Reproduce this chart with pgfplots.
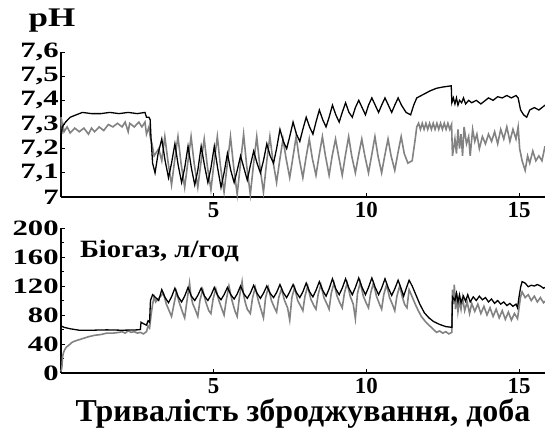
\documentclass[border=0pt]{standalone}
\usepackage{fontspec}
\setmainfont{Liberation Serif}
\usepackage{pgfplots}
\pgfplotsset{compat=1.18}
\definecolor{trace}{RGB}{130,130,130}

\pgfplotsset{
  panel/.style={
    scale only axis, width=484bp, height=145bp,
    xmin=0, xmax=15.85,
    axis x line*=bottom, axis y line*=left,
    axis line style={line width=1.4pt},
    tick align=inside, major tick length=4pt, minor tick length=3pt,
    tick style={line width=0.9pt, black},
    xtick={5,10,15},
    /pgf/number format/assume math mode=true,
    /pgf/number format/use comma,
    xticklabel style={font=\bfseries\fontsize{23}{23}\selectfont, inner ysep=5pt},
    yticklabel style={font=\bfseries\fontsize{22}{22}\selectfont, xscale=1.4, inner xsep=1.5pt},
    clip=false,
  },
  blk/.style={black, line width=1.3pt},
  gry/.style={trace, line width=1.6pt},
}

\begin{document}
\begin{tikzpicture}

% ---- pH ----
\begin{axis}[panel, at={(61bp,238bp)}, anchor=south west,
  ymin=7, ymax=7.6, ytick={7,7.1,7.2,7.3,7.4,7.5,7.6}]
\addplot[gry] coordinates {
(0,7.33) (0.02,7.26) (0.06,7.30) (0.1,7.27) (0.2,7.29) (0.3,7.265) (0.45,7.285)
(0.6,7.27) (0.75,7.285) (0.9,7.26) (1.0,7.285) (1.1,7.27) (1.25,7.29) (1.4,7.275)
(1.55,7.30) (1.7,7.29) (1.85,7.305) (2.0,7.29) (2.1,7.31) (2.2,7.27) (2.25,7.305)
(2.4,7.29) (2.55,7.31) (2.65,7.29) (2.75,7.31) (2.8,7.26) (2.88,7.29) (2.92,7.25)
(2.98,7.22) (3.05,7.17) (3.2,7.20) (3.3,7.15)
(3.40,7.25) (3.50,7.15) (3.62,7.05) (3.72,7.15)
(3.83,7.25) (3.93,7.14) (4.05,7.04) (4.15,7.14)
(4.26,7.25) (4.36,7.14) (4.48,7.04) (4.58,7.14)
(4.69,7.24) (4.79,7.13) (4.91,7.03) (5.01,7.14)
(5.12,7.25) (5.22,7.13) (5.34,7.02) (5.44,7.13)
(5.55,7.25) (5.65,7.13) (5.77,7.01) (5.87,7.13)
(5.98,7.26) (6.08,7.13) (6.20,7.01) (6.30,7.13)
(6.41,7.25) (6.51,7.13) (6.63,7.02) (6.73,7.14)
(6.84,7.25) (6.94,7.15) (7.06,7.06) (7.16,7.15)
(7.27,7.24) (7.37,7.16) (7.49,7.08) (7.59,7.16)
(7.70,7.25) (7.80,7.16) (7.92,7.08) (8.02,7.16)
(8.13,7.24) (8.23,7.16) (8.35,7.09) (8.45,7.17)
(8.56,7.25) (8.66,7.17) (8.78,7.09) (8.88,7.17)
(8.99,7.24) (9.09,7.17) (9.21,7.09) (9.31,7.17)
(9.42,7.25) (9.52,7.17) (9.64,7.10) (9.74,7.17)
(9.85,7.24) (9.95,7.17) (10.07,7.10) (10.17,7.17)
(10.28,7.25) (10.38,7.17) (10.50,7.10) (10.60,7.17)
(10.71,7.24) (10.81,7.17) (10.93,7.11) (11.03,7.18)
(11.14,7.25) (11.24,7.18) (11.36,7.14) (11.5,7.15) (11.6,7.24)
(11.65,7.29) (11.71,7.305) (11.77,7.28) (11.83,7.305) (11.89,7.28) (11.95,7.305)
(12.01,7.28) (12.07,7.305) (12.13,7.28) (12.19,7.305) (12.25,7.28) (12.31,7.305)
(12.37,7.28) (12.43,7.305) (12.49,7.28) (12.55,7.305) (12.61,7.28) (12.67,7.305)
(12.73,7.28) (12.79,7.30)
(12.82,7.17) (12.9,7.24) (12.95,7.18) (13.0,7.28) (13.05,7.20) (13.1,7.26) (13.15,7.17)
(13.2,7.29) (13.28,7.22) (13.35,7.25) (13.4,7.17) (13.48,7.28) (13.55,7.23) (13.62,7.26)
(13.7,7.20) (13.8,7.25) (13.9,7.22) (14.0,7.26) (14.1,7.23) (14.2,7.27) (14.3,7.22)
(14.4,7.28) (14.5,7.24) (14.6,7.29) (14.7,7.23) (14.8,7.28) (14.9,7.24) (14.97,7.29)
(15.02,7.20) (15.1,7.15) (15.2,7.11) (15.28,7.17) (15.35,7.14) (15.45,7.19) (15.55,7.15)
(15.65,7.17) (15.75,7.15) (15.85,7.21)
};
\addplot[blk] coordinates {
(0,7.25) (0.04,7.29) (0.15,7.31) (0.3,7.33) (0.5,7.34) (0.7,7.35) (1.0,7.345)
(1.3,7.345) (1.6,7.35) (1.9,7.345) (2.2,7.35) (2.5,7.345) (2.75,7.35) (2.8,7.33)
(2.88,7.33) (2.92,7.32) (2.95,7.24) (3.0,7.14) (3.08,7.10) (3.18,7.18)
(3.30,7.24) (3.41,7.15) (3.52,7.08) (3.62,7.14)
(3.73,7.22) (3.84,7.13) (3.95,7.06) (4.05,7.12)
(4.16,7.21) (4.27,7.12) (4.38,7.05) (4.48,7.11)
(4.59,7.21) (4.70,7.13) (4.81,7.06) (4.91,7.12)
(5.02,7.21) (5.13,7.12) (5.24,7.04) (5.34,7.10)
(5.45,7.18) (5.56,7.11) (5.67,7.06) (5.77,7.11)
(5.88,7.17) (5.99,7.12) (6.10,7.07) (6.20,7.13)
(6.31,7.19) (6.42,7.14) (6.53,7.10) (6.63,7.15)
(6.74,7.22) (6.85,7.17) (6.96,7.14) (7.06,7.20)
(7.17,7.28) (7.28,7.23) (7.39,7.20) (7.49,7.25)
(7.60,7.31) (7.71,7.26) (7.82,7.23) (7.92,7.28)
(8.03,7.33) (8.14,7.29) (8.25,7.26) (8.35,7.31)
(8.46,7.36) (8.57,7.32) (8.68,7.29) (8.78,7.33)
(8.89,7.38) (9.00,7.34) (9.11,7.31) (9.21,7.35)
(9.32,7.39) (9.43,7.35) (9.54,7.33) (9.64,7.37)
(9.75,7.40) (9.86,7.37) (9.97,7.34) (10.07,7.38)
(10.18,7.41) (10.29,7.38) (10.40,7.35) (10.50,7.38)
(10.61,7.41) (10.72,7.38) (10.83,7.35) (10.93,7.38)
(11.04,7.41) (11.15,7.38) (11.30,7.35) (11.45,7.34) (11.55,7.38) (11.65,7.41)
(11.8,7.42) (11.95,7.43) (12.1,7.44) (12.3,7.45) (12.5,7.455) (12.78,7.46)
(12.8,7.39) (12.85,7.41) (12.9,7.385) (12.95,7.41) (13.0,7.38) (13.05,7.40)
(13.12,7.39) (13.18,7.41) (13.25,7.385) (13.35,7.40) (13.45,7.39) (13.6,7.40)
(13.75,7.385) (13.9,7.40) (14.0,7.41) (14.15,7.40) (14.3,7.415) (14.45,7.41)
(14.6,7.42) (14.75,7.41) (14.9,7.42) (14.97,7.41) (15.05,7.36) (15.15,7.34)
(15.25,7.33) (15.35,7.36) (15.5,7.37) (15.65,7.36) (15.75,7.37) (15.85,7.38)
};
\end{axis}

% ---- biogas ----
\begin{axis}[panel, at={(61bp,62bp)}, anchor=south west,
  ymin=0, ymax=200, ytick={0,40,80,120,160,200},
  minor ytick={20,60,100,140,180},
  xlabel={Тривалість зброджування, доба},
  xlabel style={font=\bfseries\fontsize{32}{32}\selectfont, inner ysep=0pt}]
\addplot[gry] coordinates {
(0,2) (0.03,8) (0.05,22) (0.08,28) (0.12,32) (0.18,36) (0.25,38) (0.35,42)
(0.45,44) (0.6,46) (0.75,48) (0.9,50) (1.1,52) (1.3,53) (1.5,55) (1.7,55)
(1.9,56) (2.0,57) (2.1,55) (2.2,58) (2.3,56) (2.4,57) (2.5,55) (2.6,56)
(2.7,54) (2.8,57) (2.85,65) (2.9,62) (2.95,80) (3.0,95) (3.05,105) (3.1,98)
(3.35,110) (3.45,95) (3.55,85) (3.62,78) (3.7,95)
(3.78,112) (3.88,96) (3.98,84) (4.05,76) (4.12,98)
(4.21,124) (4.25,108) (4.31,96) (4.41,86) (4.48,78) (4.55,100)
(4.64,115) (4.74,98) (4.84,86) (4.91,82) (4.98,102)
(5.07,116) (5.17,100) (5.27,88) (5.34,80) (5.41,100)
(5.5,120) (5.6,100) (5.7,85) (5.77,78) (5.84,104)
(5.93,126) (5.97,110) (6.03,98) (6.1,88) (6.2,82) (6.27,103)
(6.36,118) (6.46,100) (6.56,86) (6.63,76) (6.7,104)
(6.79,118) (6.89,100) (6.99,90) (7.06,84) (7.13,104)
(7.22,116) (7.32,100) (7.42,90) (7.49,73) (7.56,104)
(7.65,118) (7.75,100) (7.85,92) (7.92,86) (7.99,106)
(8.08,120) (8.18,102) (8.28,93) (8.35,88) (8.42,108)
(8.51,122) (8.61,104) (8.71,95) (8.78,88) (8.85,110)
(8.94,124) (9.04,106) (9.14,96) (9.21,90) (9.28,110)
(9.37,124) (9.47,106) (9.57,95) (9.64,75) (9.71,110)
(9.8,125) (9.9,106) (10.0,96) (10.07,90) (10.14,110)
(10.23,124) (10.33,106) (10.43,95) (10.5,88) (10.57,108)
(10.66,122) (10.76,104) (10.86,94) (10.93,86) (11.0,106)
(11.09,120) (11.19,103) (11.26,94) (11.33,90) (11.4,115)
(11.5,105) (11.6,95) (11.7,86) (11.8,78) (11.95,70) (12.1,64) (12.2,60) (12.3,56)
(12.4,58) (12.5,55) (12.6,57) (12.7,54) (12.8,56) (12.82,115) (12.85,95) (12.88,122)
(12.92,88) (12.96,110) (13.0,85) (13.05,100) (13.1,88) (13.15,104) (13.22,86)
(13.3,98) (13.38,82) (13.45,96) (13.55,85) (13.65,95) (13.75,82) (13.85,92)
(13.95,80) (14.05,90) (14.15,78) (14.25,88) (14.35,76) (14.45,86) (14.55,74)
(14.65,84) (14.75,73) (14.85,82) (14.95,75) (15.0,90) (15.05,105) (15.1,112)
(15.2,104) (15.3,108) (15.4,100) (15.5,106) (15.6,98) (15.7,104) (15.8,97) (15.85,99)
};
\addplot[blk] coordinates {
(0,65) (0.1,63) (0.3,61) (0.6,59) (1.0,59) (1.5,59.5) (2.0,59) (2.5,59.5)
(2.6,60) (2.62,70) (2.7,68) (2.8,66) (2.85,72) (2.9,70) (2.93,100) (3.0,108)
(3.1,104) (3.2,100)
(3.30,115) (3.41,104) (3.52,97) (3.62,105)
(3.73,117) (3.84,105) (3.95,98) (4.05,106)
(4.16,118) (4.27,106) (4.38,100) (4.48,107)
(4.59,117) (4.70,106) (4.81,100) (4.91,107)
(5.02,118) (5.13,107) (5.24,101) (5.34,108)
(5.45,118) (5.56,108) (5.67,102) (5.77,109)
(5.88,120) (5.99,109) (6.10,103) (6.20,110)
(6.31,121) (6.42,110) (6.53,103) (6.63,110)
(6.74,120) (6.85,110) (6.96,104) (7.06,111)
(7.17,122) (7.28,111) (7.39,104) (7.49,112)
(7.60,122) (7.71,111) (7.82,104) (7.92,112)
(8.03,124) (8.14,112) (8.25,105) (8.35,114)
(8.46,126) (8.57,114) (8.68,106) (8.78,116)
(8.89,130) (9.00,116) (9.11,108) (9.21,117)
(9.32,130) (9.43,117) (9.54,108) (9.64,118)
(9.75,131) (9.86,118) (9.97,108) (10.07,118)
(10.18,131) (10.29,118) (10.40,108) (10.50,117)
(10.61,130) (10.72,117) (10.83,107) (10.93,116)
(11.04,128) (11.15,115) (11.22,106) (11.30,116) (11.40,128)
(11.5,120) (11.6,110) (11.75,95) (11.9,83) (12.05,76) (12.2,71) (12.4,67)
(12.6,64) (12.8,63) (12.82,105) (12.9,100) (12.95,110) (13.0,98) (13.05,108)
(13.1,97) (13.18,106) (13.25,99) (13.32,108) (13.4,98) (13.5,105) (13.6,100)
(13.7,106) (13.8,101) (13.9,104) (14.0,98) (14.1,102) (14.2,96) (14.3,100)
(14.4,95) (14.5,98) (14.6,93) (14.7,96) (14.8,92) (14.9,95) (14.95,90)
(15.0,105) (15.05,118) (15.1,126) (15.2,124) (15.3,119) (15.4,121) (15.5,120)
(15.6,122) (15.7,120) (15.8,117) (15.85,118)
};
\node[anchor=base west, font=\bfseries\fontsize{25}{25}\selectfont, xscale=1.15]
  at (rel axis cs:0.031,0.80) {Біогаз, л/год};
\end{axis}

\node[font=\bfseries\fontsize{27}{27}\selectfont, xscale=1.3] at (52bp,414bp) {pH};

\pgfresetboundingbox
\useasboundingbox (0,0) rectangle (545bp,435bp);
\end{tikzpicture}
\end{document}
